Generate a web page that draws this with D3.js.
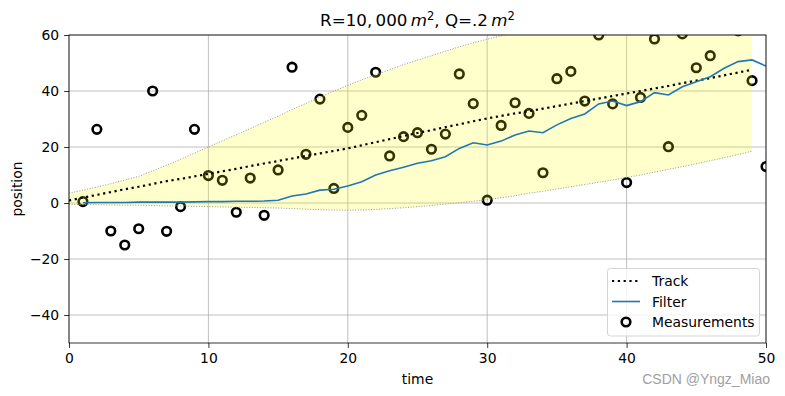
<!DOCTYPE html>
<html>
<head>
<meta charset="utf-8">
<script src="https://cdn.jsdelivr.net/npm/d3@7"></script>
<style>
  body { margin: 0; background: #fff; }
  svg text { font-family: "DejaVu Sans", sans-serif; }
</style>
</head>
<body>
<div id="chart"></div>
<script>
// measurements at t = 1..50
var measT = d3.range(1, 51);
var measurements = [0.5, 26.3, -10, -15, -9.2, 40, -10.1, -1.3, 26.3, 9.8,
  8.1, -3.3, 8.9, -4.4, 11.8, 48.5, 17.4, 37.1, 5.2, 27,
  31.3, 46.7, 16.8, 23.7, 25.1, 19.2, 24.6, 46.1, 35.5, 1,
  27.7, 35.8, 32, 10.8, 44.4, 47, 36.4, 60, 35.4, 7.3,
  37.7, 58.6, 20.1, 60.4, 48.3, 52.6, 70, 61.5, 43.7, 13];

// filter output at t = 1..50
var filterT = d3.range(1, 51);
var filterVals = [0.1, 0.2, 0.2, 0.2, 0.3, 0.3, 0.3, 0.3, 0.4, 0.5,
  0.5, 0.6, 0.6, 0.7, 1.0, 2.5, 3.2, 4.6, 4.9, 6.1,
  7.6, 10.0, 11.5, 12.8, 14.2, 15.1, 16.5, 19.5, 21.5, 20.7,
  22.1, 24.3, 25.7, 25.1, 27.9, 30.2, 31.8, 35.4, 36.4, 34.8,
  36.2, 39.4, 38.6, 41.5, 43.3, 45.1, 48.1, 50.5, 51.1, 48.9];

// true track at t = 0..49
var trackT = d3.range(0, 50);
var track = [0.9, 1.9, 2.9, 3.9, 4.9, 5.8, 6.8, 7.8, 8.6, 9.5,
  10.4, 11.3, 12.2, 13.2, 14.1, 15.0, 15.9, 16.8, 17.7, 18.6,
  19.5, 20.6, 21.7, 22.8, 23.9, 25.0, 26.0, 27.1, 28.1, 29.2,
  30.2, 31.1, 32.0, 32.8, 33.7, 34.6, 35.5, 36.4, 37.3, 38.2,
  39.1, 40.0, 40.9, 41.8, 42.8, 43.7, 44.6, 45.6, 46.6, 47.6];

// variance band at t = 0..49
var bandUpper = [3.5, 4.6, 5.7, 6.9, 8.2, 9.5, 11.5, 13.5, 15.6, 17.8,
  20, 22.2, 24.4, 26.6, 28.8, 31, 33.4, 35.6, 37.8, 40,
  42, 44, 45.8, 47.6, 49.4, 51, 52.6, 54.2, 55.8, 57.2,
  58.5, 59.7, 61, 62.3, 63.5, 64.7, 66, 67.2, 68.4, 69.6,
  70.8, 72, 73.2, 74.4, 75.6, 76.8, 78, 79.2, 80.4, 81.6];
var bandLower = [-0.5, -0.6, -0.6, -0.7, -0.8, -0.8, -0.9, -1, -1.1, -1.2,
  -1.3, -1.4, -1.5, -1.6, -1.7, -1.8, -2, -2.2, -2.4, -2.5,
  -2.6, -2.5, -2.3, -2, -1.7, -1.3, -0.9, -0.4, 0.1, 0.6,
  1.2, 1.9, 2.6, 3.5, 4.2, 5, 5.8, 6.6, 7.4, 8.2,
  9.1, 10, 11, 12, 13, 14, 15.1, 16.2, 17.3, 18.5];

var xTicks = [0, 10, 20, 30, 40, 50];
var yTicks = [-40, -20, 0, 20, 40, 60];

var W = 785, H = 396;
var m = { left: 69, right: 19, top: 35, bottom: 53 };

var svg = d3.select('#chart').append('svg')
  .attr('width', W).attr('height', H);

var x = d3.scaleLinear().domain([0, 50]).range([m.left, W - m.right]);
var y = d3.scaleLinear().domain([-50, 60]).range([H - m.bottom, m.top]);

svg.append('clipPath').attr('id', 'clip')
  .append('rect')
  .attr('x', m.left).attr('y', m.top)
  .attr('width', W - m.left - m.right).attr('height', H - m.top - m.bottom);

// grid
var grid = svg.append('g');
grid.selectAll('.gx').data(xTicks).enter().append('line')
  .attr('x1', d => x(d)).attr('x2', d => x(d))
  .attr('y1', m.top).attr('y2', H - m.bottom)
  .attr('stroke', '#b0b0b0').attr('stroke-width', 0.8);
grid.selectAll('.gy').data(yTicks).enter().append('line')
  .attr('y1', d => y(d)).attr('y2', d => y(d))
  .attr('x1', m.left).attr('x2', W - m.right)
  .attr('stroke', '#b0b0b0').attr('stroke-width', 0.8);

var plot = svg.append('g').attr('clip-path', 'url(#clip)');

// measurements
plot.selectAll('.meas').data(measurements).enter().append('circle')
  .attr('cx', (d, i) => x(measT[i]))
  .attr('cy', d => y(d))
  .attr('r', 4.3)
  .attr('fill', 'none')
  .attr('stroke', 'black')
  .attr('stroke-width', 2.6);

// variance band
var area = d3.area()
  .x((d, i) => x(trackT[i]))
  .y0((d, i) => y(bandLower[i]))
  .y1(d => y(d));
plot.append('path')
  .attr('d', area(bandUpper))
  .attr('fill', 'yellow').attr('fill-opacity', 0.2);

var edge = d3.line().x((d, i) => x(trackT[i])).y(d => y(d));
[bandUpper, bandLower].forEach(function (b) {
  plot.append('path')
    .attr('d', edge(b))
    .attr('fill', 'none')
    .attr('stroke', '#999')
    .attr('stroke-width', 1)
    .attr('stroke-dasharray', '1,1.65');
});

// track
plot.append('path')
  .attr('d', d3.line().x((d, i) => x(trackT[i])).y(d => y(d))(track))
  .attr('fill', 'none')
  .attr('stroke', 'black')
  .attr('stroke-width', 2.2)
  .attr('stroke-dasharray', '2.2,3.6');

// filter
plot.append('path')
  .attr('d', d3.line().x((d, i) => x(filterT[i])).y(d => y(d))(filterVals))
  .attr('fill', 'none')
  .attr('stroke', '#1f77b4')
  .attr('stroke-width', 1.6);

// axes
var xAxis = svg.append('g')
  .attr('transform', 'translate(0,' + (H - m.bottom) + ')')
  .call(d3.axisBottom(x).tickValues(xTicks).tickSize(4.9).tickPadding(4.9).tickSizeOuter(0));
var yAxis = svg.append('g')
  .attr('transform', 'translate(' + m.left + ',0)')
  .call(d3.axisLeft(y).tickValues(yTicks).tickSize(4.9).tickPadding(4.9).tickSizeOuter(0)
    .tickFormat(d => (d < 0 ? '\u2212' + Math.abs(d) : d)));
[xAxis, yAxis].forEach(function (a) {
  a.select('.domain').remove();
  a.selectAll('.tick line').attr('stroke', 'black').attr('stroke-width', 0.8);
  a.selectAll('.tick text')
    .attr('fill', 'black')
    .style('font-family', '"DejaVu Sans", sans-serif')
    .style('font-size', '13.9px');
});

// spines
svg.append('rect')
  .attr('x', m.left).attr('y', m.top)
  .attr('width', W - m.left - m.right).attr('height', H - m.top - m.bottom)
  .attr('fill', 'none').attr('stroke', 'black').attr('stroke-width', 0.8);

// labels
svg.append('text')
  .attr('x', (m.left + W - m.right) / 2).attr('y', 384)
  .attr('text-anchor', 'middle').style('font-size', '13.9px')
  .text('time');
svg.append('text')
  .attr('transform', 'translate(22,' + ((m.top + H - m.bottom) / 2) + ') rotate(-90)')
  .attr('text-anchor', 'middle').style('font-size', '13.9px')
  .text('position');

var title = svg.append('text')
  .attr('x', (m.left + W - m.right) / 2).attr('y', 26)
  .attr('text-anchor', 'middle').style('font-size', '16.7px');
title.append('tspan').text('R=10,\u2009000\u2009');
title.append('tspan').style('font-style', 'italic').text('m');
title.append('tspan').attr('dy', -6).style('font-size', '11.5px').text('2');
title.append('tspan').attr('dy', 6).text(', Q=.2\u2009');
title.append('tspan').style('font-style', 'italic').text('m');
title.append('tspan').attr('dy', -6).style('font-size', '11.5px').text('2');

// legend
var lg = svg.append('g');
lg.append('rect')
  .attr('x', 607.5).attr('y', 268.5).attr('width', 152).attr('height', 67.5)
  .attr('rx', 3).attr('fill', 'white').attr('fill-opacity', 0.8)
  .attr('stroke', '#d5d5d5').attr('stroke-width', 1);
var legendItems = ['Track', 'Filter', 'Measurements'];
var ly = d3.scalePoint().domain(legendItems).range([281, 322]);
lg.append('line').attr('x1', 612).attr('x2', 640)
  .attr('y1', ly('Track')).attr('y2', ly('Track'))
  .attr('stroke', 'black').attr('stroke-width', 2.2).attr('stroke-dasharray', '2.2,3.6');
lg.append('line').attr('x1', 612).attr('x2', 640)
  .attr('y1', ly('Filter')).attr('y2', ly('Filter'))
  .attr('stroke', '#1f77b4').attr('stroke-width', 1.6);
lg.append('circle').attr('cx', 626).attr('cy', ly('Measurements')).attr('r', 4.3)
  .attr('fill', 'none').attr('stroke', 'black').attr('stroke-width', 2.6);
lg.selectAll('.lt').data(legendItems).enter().append('text')
  .attr('x', 652).attr('y', d => ly(d) + 5)
  .style('font-size', '13.9px')
  .text(d => d);

// watermark
svg.append('text')
  .attr('x', 770).attr('y', 384)
  .attr('text-anchor', 'end')
  .style('font-family', '"Liberation Sans", Arial, sans-serif')
  .style('font-size', '14px')
  .attr('fill', '#a0a0a0')
  .text('CSDN @Yngz_Miao');
</script>
</body>
</html>
